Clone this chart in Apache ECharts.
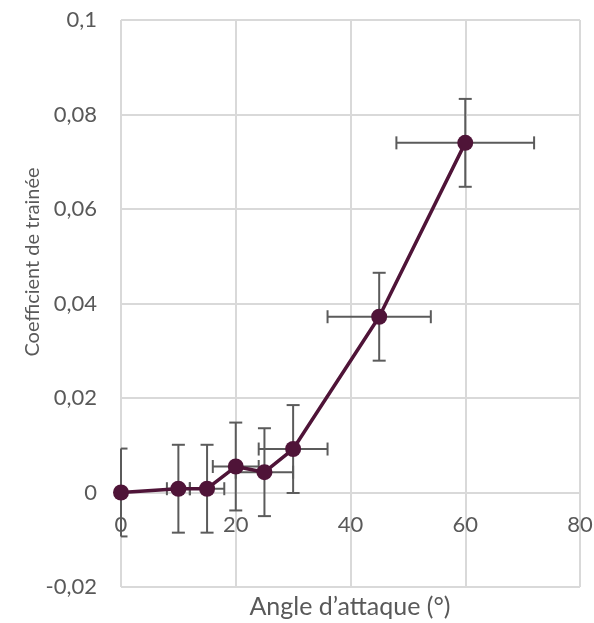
<!DOCTYPE html>
<html>
<head>
<meta charset="utf-8">
<script src="https://cdn.jsdelivr.net/npm/echarts@6/dist/echarts.min.js"></script>
<style>
  html, body { margin: 0; padding: 0; background: #fff; }
  #chart { width: 594px; height: 623px; }
</style>
</head>
<body>
<div id="chart"></div>
<script>
// Angle of attack (degrees) and measured drag coefficient
const angles = [0, 10, 15, 20, 25, 30, 45, 60];
const dragCoef = [0, 0.0008, 0.0008, 0.0055, 0.0043, 0.0092, 0.0372, 0.074];
// Uncertainties: ± on the angle and ± on the coefficient
const angleErr = [0, 2, 3, 4, 5, 6, 9, 12];
const coefErr = [0.0093, 0.0093, 0.0093, 0.0093, 0.0093, 0.0093, 0.0093, 0.0093];

const xTicks = { min: 0, max: 80, interval: 20 };
const yTicks = { min: -0.02, max: 0.1, interval: 0.02 };

const TEXT = '#595959';
const GRID = '#d9d9d9';
const MAROON = '#4f1438';
const BAR = '#5b5b5b';
const FONT = 'Lato';

const points = angles.map((a, i) => [a, dragCoef[i]]);
const errData = angles.map((a, i) => [a, dragCoef[i], angleErr[i], coefErr[i]]);

function fmt(v) {
  if (Math.abs(v) < 1e-9) return '0';
  return String(Math.round(v * 1000) / 1000).replace('.', ',');
}

function renderErr(params, api) {
  const x = api.value(0), y = api.value(1), dx = api.value(2), dy = api.value(3);
  const cs = params.coordSys;
  const left = cs.x, right = cs.x + cs.width;
  const cap = 6.5;
  const clampX = v => Math.max(left, Math.min(right, v));
  const style = { stroke: BAR, lineWidth: 2, fill: null };
  const children = [];
  const top = api.coord([x, y + dy]);
  const bot = api.coord([x, y - dy]);
  children.push({ type: 'line', shape: { x1: top[0], y1: top[1], x2: bot[0], y2: bot[1] }, style });
  children.push({ type: 'line', shape: { x1: clampX(top[0] - cap), y1: top[1], x2: clampX(top[0] + cap), y2: top[1] }, style });
  children.push({ type: 'line', shape: { x1: clampX(bot[0] - cap), y1: bot[1], x2: clampX(bot[0] + cap), y2: bot[1] }, style });
  if (dx > 0) {
    const l = api.coord([x - dx, y]);
    const r = api.coord([x + dx, y]);
    children.push({ type: 'line', shape: { x1: l[0], y1: l[1], x2: r[0], y2: r[1] }, style });
    children.push({ type: 'line', shape: { x1: l[0], y1: l[1] - cap, x2: l[0], y2: l[1] + cap }, style });
    children.push({ type: 'line', shape: { x1: r[0], y1: r[1] - cap, x2: r[0], y2: r[1] + cap }, style });
  }
  return { type: 'group', children };
}

const chart = echarts.init(document.getElementById('chart'), null, { renderer: 'canvas' });
chart.setOption({
  animation: false,
  backgroundColor: '#ffffff',
  textStyle: { fontFamily: FONT, color: TEXT },
  grid: [
    // plotting area
    { left: 121, right: 14, top: 20, bottom: 36, containLabel: false, outerBoundsMode: 'none' },
    // band ending on the zero line, carrying the angle labels where the axes cross
    { left: 121, right: 14, top: 20, bottom: 131, containLabel: false, outerBoundsMode: 'none' }
  ],
  xAxis: [{
    type: 'value',
    gridIndex: 0,
    min: xTicks.min, max: xTicks.max, interval: xTicks.interval,
    axisLine: { show: false },
    axisTick: { show: false },
    axisLabel: { show: false },
    splitLine: { show: true, lineStyle: { color: GRID, width: 2 } }
  }, {
    type: 'value',
    gridIndex: 1,
    min: xTicks.min, max: xTicks.max, interval: xTicks.interval,
    axisLine: { show: false },
    axisTick: { show: false },
    axisLabel: { fontFamily: FONT, fontSize: 22, color: TEXT, margin: 22 },
    splitLine: { show: false }
  }],
  yAxis: [{
    type: 'value',
    gridIndex: 0,
    min: yTicks.min, max: yTicks.max, interval: yTicks.interval,
    axisLine: { show: false },
    axisTick: { show: false },
    axisLabel: { fontFamily: FONT, fontSize: 22, color: TEXT, margin: 24, formatter: fmt },
    splitLine: { show: true, lineStyle: { color: GRID, width: 2 } }
  }, {
    type: 'value',
    gridIndex: 1,
    min: 0, max: yTicks.max,
    show: false,
    splitLine: { show: false }
  }],
  graphic: [{
    type: 'text',
    x: 33, y: 262,
    rotation: Math.PI / 2,
    style: {
      text: 'Coefficient de trainée',
      fontFamily: FONT, fontSize: 20, fill: TEXT,
      align: 'center', verticalAlign: 'middle'
    }
  }, {
    type: 'text',
    x: 350, y: 607,
    style: {
      text: 'Angle d\u2019attaque (°)',
      fontFamily: FONT, fontSize: 25, fill: TEXT,
      align: 'center', verticalAlign: 'middle'
    }
  }],
  series: [
    {
      type: 'custom',
      xAxisIndex: 0, yAxisIndex: 0,
      renderItem: renderErr,
      data: errData,
      encode: { x: 0, y: 1 },
      z: 2,
      silent: true
    },
    {
      type: 'line',
      xAxisIndex: 0, yAxisIndex: 0,
      data: points,
      symbol: 'circle',
      symbolSize: 16,
      lineStyle: { color: MAROON, width: 3.5 },
      itemStyle: { color: MAROON },
      z: 3
    }
  ]
});
</script>
</body>
</html>
